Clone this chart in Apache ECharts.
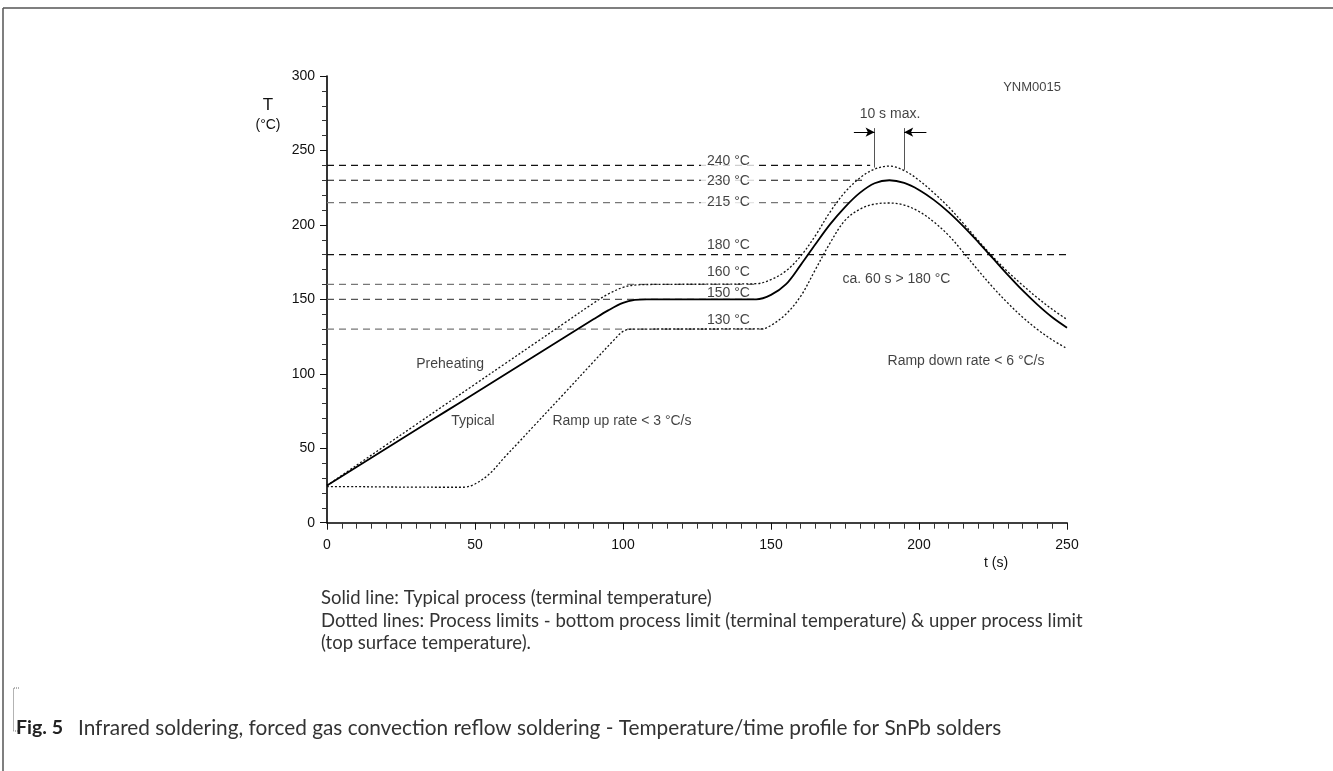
<!DOCTYPE html>
<html>
<head>
<meta charset="utf-8">
<script src="https://cdn.jsdelivr.net/npm/echarts@6/dist/echarts.min.js"></script>
<style>html,body{margin:0;padding:0;background:#fff;}#c{width:1333px;height:771px;}</style>
</head>
<body>
<div id="c"></div>
<script>
// ---- data ----
const xTicks = [0, 50, 100, 150, 200, 250];
const yTicks = [0, 50, 100, 150, 200, 250, 300];

const typicalTime = [0,10,20,30,40,50,60,70,80,90,95,100,104,108,145,150,155,160,165,170,175,180,185,190,195,200,205,210,215,220,225,230,235,240,245,250];
const typicalTemp = [25,37.4,49.8,62.2,74.6,87,99.4,111.8,124.2,136.6,142.6,147.6,149.6,150,150,153,160,173,187,200.5,212,221.5,228,230,228.2,223.5,216.8,208.6,199,188.5,177.5,166.5,156,146.5,138,131];

const upperTime = [0,10,20,30,40,50,60,70,80,90,95,100,104,110,145,150,155,160,165,170,175,180,185,190,195,200,205,210,215,220,225,230,235,240,245,250];
const upperTemp = [25,38.6,52.2,65.8,79.4,93,106.6,120.2,133.8,147.4,153.6,158,159.6,160,160.5,163.3,169,179,192.8,208.8,222,231.5,237.5,239.5,236.5,230,221.5,212,201,189.5,178.5,168.5,159.5,151,143.3,136.5];

const lowerTime = [0,10,20,30,40,46,50,55,60,65,70,80,90,97,100,103,147,150,155,160,165,170,175,180,185,190,195,200,205,210,215,220,225,230,235,240,245,250];
const lowerTemp = [24.3,24.2,24,23.9,23.8,23.8,26,33,44,54.5,65.2,86.5,108,122.8,128.5,130,130.2,132.5,140,152,170,188,203,210.5,214,214.7,213.3,209,202,193,181.5,169.5,158,147.5,138,129.8,122.8,117];

// reference levels (dashed lines): level, end time, label text
const refLevels = [240, 230, 215, 180, 160, 150, 130];
const refEnds   = [183.5, 181, 178, 250, 145, 145, 147.5];
const refLabels = ['240 °C', '230 °C', '215 °C', '180 °C', '160 °C', '150 °C', '130 °C'];
const refLabelTime = 135.6;

// peak window "10 s max."
const windowStart = 185, windowEnd = 195;

// annotations
const noteLines = [
  'Solid line: Typical process (terminal temperature)',
  'Dotted lines: Process limits - bottom process limit (terminal temperature) & upper process limit',
  '(top surface temperature).'
];
const captionFig = 'Fig. 5';
const captionText = 'Infrared soldering, forced gas convection reflow soldering - Temperature/time profile for SnPb solders';

// ---- styles ----
const FONT = '"Liberation Sans", Arial, sans-serif';
const NOTE_FONT = 'Lato, "Open Sans", sans-serif';
const refColors = ['#111', '#111', '#777', '#111', '#777', '#555', '#777'];
const refOffsets = [-4, 1, 0, -10, -12, -6, -9];
const refGap = [true, true, true, false, false, false, false];

function zip(a, b) { return a.map((v, i) => [v, b[i]]); }

const series = [];
refLevels.forEach((lv, i) => {
  series.push({
    type: 'line', data: [[0, lv], [refEnds[i], lv]], symbol: 'none', silent: true, z: 1,
    lineStyle: { color: refColors[i], width: 1.2, type: [7, 5] }
  });
});
series.push({
  name: 'Lower', type: 'line', data: zip(lowerTime, lowerTemp), symbol: 'none', smooth: 0.35, z: 3,
  lineStyle: { color: '#111', width: 1.3, type: [2, 2] }
});
series.push({
  name: 'Upper', type: 'line', data: zip(upperTime, upperTemp), symbol: 'none', smooth: 0.35, z: 3,
  lineStyle: { color: '#111', width: 1.3, type: [2, 2] }
});
series.push({
  name: 'Typical', type: 'line', data: zip(typicalTime, typicalTemp), symbol: 'none', smooth: 0.35, z: 4,
  lineStyle: { color: '#000', width: 1.8 },
  markLine: {
    silent: true, animation: false, label: { show: false },
    data: [
      [{ coord: [windowStart, 238.5], symbol: 'none' }, { coord: [windowStart, 265], symbol: 'none', lineStyle: { color: '#555', width: 1, type: 'solid' } }],
      [{ coord: [windowEnd, 237], symbol: 'none' }, { coord: [windowEnd, 265], symbol: 'none', lineStyle: { color: '#555', width: 1, type: 'solid' } }],
      [{ coord: [windowStart - 7, 262.3], symbol: 'none' }, { coord: [windowStart, 262.3], symbol: 'arrow', symbolSize: [7, 9] }],
      [{ coord: [windowEnd + 7.5, 262.3], symbol: 'none' }, { coord: [windowEnd, 262.3], symbol: 'arrow', symbolSize: [7, 9] }]
    ],
    lineStyle: { color: '#000', width: 1, type: 'solid' },
    itemStyle: { color: '#000' }
  }
});
// reference level labels
series.push({
  type: 'scatter', symbolSize: 1, itemStyle: { color: 'rgba(0,0,0,0)' }, silent: true, z: 6,
  data: refLevels.map((lv, i) => ({
    value: [refLabelTime, lv], name: refLabels[i],
    label: {
      show: true, position: 'inside', offset: [0, refOffsets[i]], formatter: refLabels[i],
      color: '#111', fontSize: 14, fontFamily: FONT,
      backgroundColor: refGap[i] ? '#fff' : 'transparent', padding: refGap[i] ? [1, 6, 1, 6] : 0
    }
  }))
});
// text annotations in the plot
const notes = [
  { t: 41.6, T: 106.5, text: 'Preheating', pos: 'inside' },
  { t: 49.3, T: 68.3, text: 'Typical', pos: 'inside' },
  { t: 76, T: 68.3, text: 'Ramp up rate < 3 °C/s', pos: 'right' },
  { t: 174, T: 163.7, text: 'ca. 60 s > 180 °C', pos: 'right' },
  { t: 189.2, T: 108.6, text: 'Ramp down rate < 6 °C/s', pos: 'right' },
  { t: 190.2, T: 274.5, text: '10 s max.', pos: 'inside' },
  { t: 238.2, T: 292.5, text: 'YNM0015', pos: 'inside', size: 13 }
];
series.push({
  type: 'scatter', symbolSize: 1, itemStyle: { color: 'rgba(0,0,0,0)' }, silent: true, z: 6,
  data: notes.map(n => ({
    value: [n.t, n.T],
    label: { show: true, position: n.pos, distance: 0, formatter: n.text, color: '#111', fontSize: n.size || 14, fontFamily: FONT }
  }))
});

const chart = echarts.init(document.getElementById('c'), null, { renderer: 'canvas' });
chart.setOption({
  animation: false,
  backgroundColor: '#fff',
  grid: { left: 327, right: 266, top: 76, bottom: 248.3, containLabel: false },
  xAxis: {
    type: 'value', min: xTicks[0], max: xTicks[xTicks.length - 1], interval: 50,
    axisLine: { show: true, onZero: false, lineStyle: { color: '#000', width: 1.6 } },
    axisTick: { show: true, length: 7, lineStyle: { color: '#111', width: 1 } },
    minorTick: { show: true, splitNumber: 10, length: 6, lineStyle: { color: '#333', width: 1 } },
    splitLine: { show: false },
    axisLabel: { color: '#111', fontSize: 14, fontFamily: FONT, margin: 15 }
  },
  yAxis: {
    type: 'value', min: yTicks[0], max: yTicks[yTicks.length - 1], interval: 50,
    axisLine: { show: true, onZero: false, lineStyle: { color: '#000', width: 1.6 } },
    axisTick: { show: true, length: 7, lineStyle: { color: '#111', width: 1 } },
    minorTick: { show: true, splitNumber: 5, length: 5, lineStyle: { color: '#333', width: 1 } },
    splitLine: { show: false },
    axisLabel: { color: '#111', fontSize: 14, fontFamily: FONT, margin: 12 }
  },
  series: series,
  graphic: [
    { type: 'line', shape: { x1: 3, y1: 8, x2: 1333, y2: 8 }, style: { stroke: '#555', lineWidth: 1.5 }, silent: true },
    { type: 'line', shape: { x1: 3, y1: 8, x2: 3, y2: 771 }, style: { stroke: '#555', lineWidth: 1.5 }, silent: true },
    { type: 'polyline', shape: { points: [[19, 688], [13.5, 688], [13.5, 731], [18, 731]] }, style: { stroke: '#666', lineWidth: 1, lineDash: [1, 1], fill: null }, silent: true },
    { type: 'text', x: 268, y: 105, style: { text: 'T', font: '17px ' + FONT, fill: '#111', textAlign: 'center', textVerticalAlign: 'middle' } },
    { type: 'text', x: 268, y: 125, style: { text: '(°C)', font: '14px ' + FONT, fill: '#111', textAlign: 'center', textVerticalAlign: 'middle' } },
    { type: 'text', x: 996, y: 563, style: { text: 't (s)', font: '14px ' + FONT, fill: '#111', textAlign: 'center', textVerticalAlign: 'middle' } },
    { type: 'text', x: 321, y: 598, style: { text: noteLines[0], font: '18.5px ' + NOTE_FONT, fill: '#333', textAlign: 'left', textVerticalAlign: 'middle' } },
    { type: 'text', x: 321, y: 621, style: { text: noteLines[1], font: '18.5px ' + NOTE_FONT, fill: '#333', textAlign: 'left', textVerticalAlign: 'middle' } },
    { type: 'text', x: 321, y: 643, style: { text: noteLines[2], font: '18.5px ' + NOTE_FONT, fill: '#333', textAlign: 'left', textVerticalAlign: 'middle' } },
    { type: 'text', x: 16, y: 728, style: { text: captionFig, font: 'bold 19.5px ' + NOTE_FONT, fill: '#222', textAlign: 'left', textVerticalAlign: 'middle' } },
    { type: 'text', x: 78, y: 728, style: { text: captionText, font: '20.8px ' + NOTE_FONT, fill: '#333', textAlign: 'left', textVerticalAlign: 'middle' } }
  ]
});
</script>
</body>
</html>
